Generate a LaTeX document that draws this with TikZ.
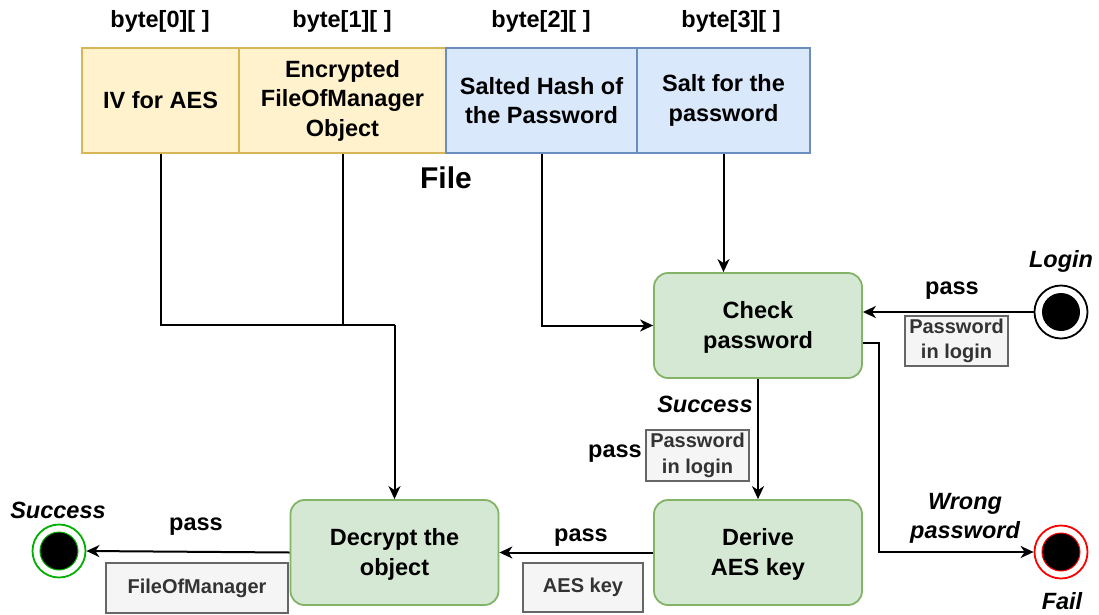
\documentclass[tikz,border=0pt]{standalone}
\usepackage{fontspec}
\setmainfont{Liberation Sans}
\usetikzlibrary{arrows.meta}
\definecolor{yfill}{HTML}{FFF2CC}
\definecolor{ydraw}{HTML}{D6B656}
\definecolor{bfill}{HTML}{DAE8FC}
\definecolor{bdraw}{HTML}{6C8EBF}
\definecolor{gfill}{HTML}{D5E8D4}
\definecolor{gdraw}{HTML}{82B366}
\definecolor{lfill}{HTML}{F5F5F5}
\definecolor{ldraw}{HTML}{666666}
\definecolor{ltext}{HTML}{333333}
\definecolor{okgreen}{HTML}{00B000}
\definecolor{failred}{HTML}{FF0000}
\begin{document}
\begin{tikzpicture}[x=1pt,y=-1pt,
  every node/.style={font=\fontsize{23.5}{29.5}\selectfont\bfseries, align=center, inner sep=0pt},
  field/.style={draw, line width=1.8pt, minimum height=105pt},
  state/.style={draw=gdraw, fill=gfill, line width=1.8pt, rounded corners=14pt, minimum width=208pt, minimum height=105pt},
  tag/.style={draw=ldraw, fill=lfill, line width=1.5pt, text=ltext, font=\fontsize{20}{25.5}\selectfont\bfseries},
  lbl/.style={},
  ilbl/.style={font=\fontsize{23.5}{29}\selectfont\bfseries\itshape},
  conn/.style={line width=2pt},
  arr/.style={line width=2pt, -{Stealth[length=13pt,width=12pt,inset=4pt]}},
  ring/.style={circle, draw, line width=1.8pt, minimum size=53pt},
  dot/.style={circle, fill=black, minimum size=38pt}
]
\useasboundingbox (0,0) rectangle (1099,615);

% file fields
\node[field, fill=yfill, draw=ydraw, minimum width=157pt] (f0) at (160.5,100.5) {IV for AES};
\node[field, fill=yfill, draw=ydraw, minimum width=207pt] (f1) at (342.5,100.5) {Encrypted\\FileOfManager\\Object};
\node[field, fill=bfill, draw=bdraw, minimum width=191pt] (f2) at (541.5,100.5) {Salted Hash of\\the Password};
\node[field, fill=bfill, draw=bdraw, minimum width=173pt] (f3) at (723.5,100.5) {Salt for the\\password};

\node[lbl] (b0) at (160,21) {byte[0][ ]};
\node[lbl] (b1) at (342,21) {byte[1][ ]};
\node[lbl] (b2) at (541,21) {byte[2][ ]};
\node[lbl] (b3) at (731,21) {byte[3][ ]};
\node[font=\fontsize{30}{36}\selectfont\bfseries] (file) at (446,178) {File};

% states
\node[state] (chk) at (758,325.5) {\strut Check\\password};
\node[state] (der) at (758,552.5) {\strut Derive\\AES key};
\node[state] (dec) at (394.5,552.5) {\strut Decrypt the\\object};

% terminals
\node[ring] (login) at (1061,312) {};
\node[dot] (logind) at (1061,312) {};
\node[ring, draw=okgreen] (succ) at (59,551) {};
\node[dot, draw=okgreen, line width=1pt] (succd) at (59,551) {};
\node[ring, draw=failred] (fail) at (1061,552) {};
\node[dot, draw=failred, line width=1pt] (faild) at (1061,552) {};

% connectors
\coordinate (jn) at (394.5,325);
\draw[conn] (f0.south) |- (jn);
\draw[conn] (f1.south) -- (f1.south |- jn);
\draw[arr] (jn) -- (dec.north);
\draw[arr] (f2.south) |- (chk.west);
\draw[arr] (f3.south) -- (f3.south |- chk.north);
\draw[arr] (login.west) -- (login.west -| chk.east);
\coordinate (bend) at (879,552);
\draw[arr] ([yshift=-17.5pt]chk.east) -| (bend) -- (fail.west);
\draw[arr] (chk.south) -- (der.north);
\draw[arr] (der.west) -- (der.west -| dec.east);
\draw[arr] (dec.west) -- (succ.east);

% labels
\node[ilbl] (loginl) at (1061,261) {Login};
\node[lbl] (p1) at (952,291) {pass};
\node[tag, minimum width=103pt, minimum height=50pt] (t1) at (956.5,341) {Password\\in login};
\node[ilbl] (s1) at (705,404) {Success};
\node[lbl] (p2) at (615,454) {pass};
\node[tag, minimum width=103pt, minimum height=51pt] (t2) at (697.5,455.5) {Password\\in login};
\node[ilbl] (wp) at (965,518) {Wrong\\password};
\node[ilbl] (faill) at (1062,601) {Fail};
\node[lbl] (p3) at (581,538) {pass};
\node[tag, minimum width=120pt, minimum height=49pt] (t3) at (583,587.5) {AES key};
\node[lbl] (p4) at (196,527) {pass};
\node[tag, minimum width=182pt, minimum height=50pt] (t4) at (197,588) {FileOfManager};
\node[ilbl] (s2) at (58,510) {Success};
\end{tikzpicture}
\end{document}
